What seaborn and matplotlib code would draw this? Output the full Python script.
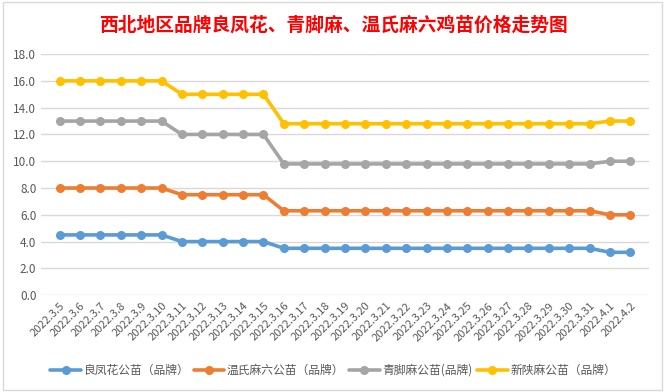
import pandas as pd
import numpy as np
import seaborn as sns
import matplotlib.pyplot as plt
from matplotlib.patches import Rectangle

# ----------------------------------------
# Data
dates = ["2022.3.5", "2022.3.6", "2022.3.7", "2022.3.8", "2022.3.9", "2022.3.10",
         "2022.3.11", "2022.3.12", "2022.3.13", "2022.3.14", "2022.3.15",
         "2022.3.16", "2022.3.17", "2022.3.18", "2022.3.19", "2022.3.20",
         "2022.3.21", "2022.3.22", "2022.3.23", "2022.3.24", "2022.3.25",
         "2022.3.26", "2022.3.27", "2022.3.28", "2022.3.29", "2022.3.30",
         "2022.3.31", "2022.4.1", "2022.4.2"]

liangfenghua = [4.5] * 6 + [4.0] * 5 + [3.5] * 16 + [3.2] * 2
wenshima = [8.0] * 6 + [7.5] * 5 + [6.3] * 16 + [6.0] * 2
qingjiaoma = [13.0] * 6 + [12.0] * 5 + [9.8] * 16 + [10.0] * 2
xinshanma = [16.0] * 6 + [15.0] * 5 + [12.8] * 16 + [13.0] * 2

series_names = ["良凤花公苗（品牌）", "温氏麻六公苗（品牌）", "青脚麻公苗(品牌)", "新陕麻公苗（品牌）"]
colors = ["#5B9BD5", "#ED7D31", "#A5A5A5", "#FFC000"]
title = "西北地区品牌良凤花、青脚麻、温氏麻六鸡苗价格走势图"
# ----------------------------------------

sns.set_style("white")
plt.rcParams['font.family'] = ['Noto Sans CJK SC', 'DejaVu Sans']

df = pd.DataFrame({
    "idx": list(range(len(dates))) * 4,
    "price": liangfenghua + wenshima + qingjiaoma + xinshanma,
    "series": sum([[name] * len(dates) for name in series_names], []),
})

fig = plt.figure(figsize=(6.66, 3.92), dpi=100)
ax = fig.add_axes([0.062, 0.247, 0.912, 0.615])

sns.lineplot(data=df, x="idx", y="price", hue="series", hue_order=series_names,
             palette=colors, marker="o", markersize=6.5, markeredgewidth=0,
             linewidth=2.6, ax=ax, legend=True)

ax.set_ylim(0, 18)
ax.set_yticks(np.arange(0, 18.1, 2))
ax.set_yticklabels([f"{v:.1f}" for v in np.arange(0, 18.1, 2)])
ax.set_xlim(-0.9, len(dates) - 0.1)
ax.set_xticks(range(len(dates)))
ax.set_xticklabels(dates, rotation=45, ha="right", rotation_mode="anchor")
ax.tick_params(axis="both", length=0, labelsize=8, colors="#595959")
ax.tick_params(axis="y", labelsize=8.5)
ax.tick_params(axis="x", pad=4)
ax.set_xlabel("")
ax.set_ylabel("")
ax.grid(axis="y", color="#D9D9D9", linewidth=1)
for s in ax.spines.values():
    s.set_visible(False)

ax.legend(loc="center", bbox_to_anchor=(0.5, 0.055), bbox_transform=fig.transFigure,
          ncol=4, frameon=False, fontsize=8.5, labelcolor="#595959",
          handlelength=2.6, handletextpad=0.2, columnspacing=0.4)

fig.text(0.5, 0.935, title, ha="center", va="center", color="red",
         fontsize=13.5, fontweight="bold")

fig.add_artist(Rectangle((0.004, 0.004), 0.99, 0.99, transform=fig.transFigure,
                         fill=False, edgecolor="#D9D9D9", linewidth=1))

fig.savefig("out.png", dpi=100)
